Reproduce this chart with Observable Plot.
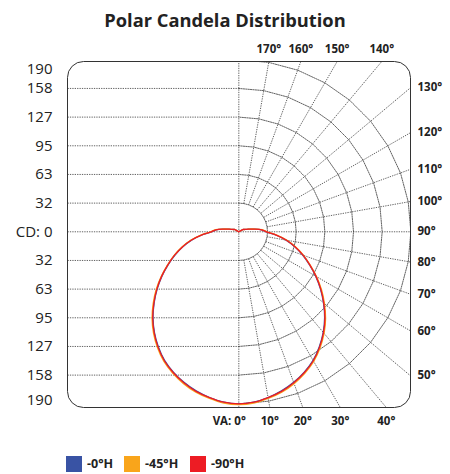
<!DOCTYPE html>
<html><head><meta charset="utf-8">
<script src="https://cdn.jsdelivr.net/npm/d3@7"></script>
<script src="https://cdn.jsdelivr.net/npm/@observablehq/plot@0.6"></script>
<style>
body{margin:0;background:#fff;font-family:"Open Sans",sans-serif;width:450px;height:474px;overflow:hidden;}
#title{height:36px;line-height:39px;text-align:center;font-weight:700;font-size:18.3px;color:#222;}
#chart svg{display:block;}
#legend{position:relative;height:20px;margin-top:25px;}
.item{position:absolute;top:0;display:flex;align-items:center;font-weight:700;font-size:12.5px;color:#222;}
.sw{width:16px;height:16px;margin-right:5px;}
</style></head><body>
<div id="title">Polar Candela Distribution</div>
<div id="chart"></div>
<div id="legend"></div>
<script>
// vertical angles (deg) and candela values per horizontal plane
const angles = [0,5,10,15,20,25,30,35,40,45,50,55,60,65,70,75,80,85,90,95,100,105,110,115,120,125,130,135,140,145,150,155,160,165,170,175,180];
const cd0H  = [190,189,186,182,177,171,164,155,145,134,122,110,98,86,75,64,53,41,30,25,17,11,7.5,6,5,0,0,0,0,0,0,0,0,0,0,0,0];
const cd45H = [191,190,187,183.5,178.5,172.5,165.5,156.5,146.5,135.5,123.5,111.5,99,87,76,65,54,42,31,26,17.5,11,7.5,6,5,0,0,0,0,0,0,0,0,0,0,0,0];
const cd90H = [190,189,186,182.5,177.5,171.5,164.5,155.5,145.5,134.5,122.5,110.5,98.5,86.5,75.5,64.5,53.5,41.5,30.5,25.5,17,11,7.5,6,5,0,0,0,0,0,0,0,0,0,0,0,0];
const seriesNames = ["-0°H","-45°H","-90°H"];
const seriesColors = ["#3953a4","#f9a51b","#ed1c24"];
const ringValues = [31.67,63.33,95,126.67,158.33,190];
const ringLabels = ["32","63","95","127","158","190"];
const radialAngles = [10,20,30,40,50,60,70,80,100,110,120,130,140,150,160,170];
const bottomAngles = [10,20,30,40];
const rightAngles = [50,60,70,80,90,100,110,120,130];
const topAngles = [140,150,160,170];

const xMin = -189.2, xMax = 189.6, yMin = -194.1, yMax = 188.1;
const rad = a => a * Math.PI / 180;
const px = (r, a) => r * Math.sin(rad(a));
const py = (r, a) => -r * Math.cos(rad(a));

// curves, mirrored to the left half
const seriesVals = [cd0H, cd45H, cd90H];
const curve = [];
seriesVals.forEach((vals, s) => {
  for (let i = angles.length - 1; i >= 0; i--) curve.push({s, x: px(vals[i], -angles[i]), y: py(vals[i], -angles[i])});
  for (let i = 1; i < angles.length; i++) curve.push({s, x: px(vals[i], angles[i]), y: py(vals[i], angles[i])});
});

// grid
const segs = [];
ringValues.slice(0, 5).forEach(r => {
  segs.push({x1: xMin, y1: r, x2: 0, y2: r});
  segs.push({x1: xMin, y1: -r, x2: 0, y2: -r});
});
segs.push({x1: xMin, y1: 0, x2: xMax, y2: 0});
segs.push({x1: 0, y1: yMin, x2: 0, y2: yMax});
radialAngles.forEach(a => {
  const s = Math.sin(rad(a)), c = Math.cos(rad(a));
  const rEnd = Math.min(xMax / s, c > 0 ? -yMin / c : yMax / -c);
  segs.push({x1: px(ringValues[0], a), y1: py(ringValues[0], a), x2: px(rEnd, a), y2: py(rEnd, a)});
});
const arcs = [];
ringValues.forEach((r, k) => {
  for (let a = 0; a <= 180; a += 10) arcs.push({k, x: px(r, a), y: py(r, a)});
});

// labels
const leftLabels = [];
ringValues.slice(0, 5).forEach((r, i) => {
  leftLabels.push({y: r, t: ringLabels[i]});
  leftLabels.push({y: -r, t: ringLabels[i]});
});
const bottomLab = bottomAngles.map(a => ({x: -yMin * Math.tan(rad(a)), t: a + "°"}));
const topLab = topAngles.map(a => ({x: yMax * Math.tan(rad(180 - a)), t: a + "°"}));
const rightLab = rightAngles.map(a => ({y: -xMax * Math.cos(rad(a)) / Math.sin(rad(a)), t: a + "°"}));

const grid = {stroke: "#3a3a3a", strokeWidth: 0.8, strokeDasharray: "1.3,1.1"};
const chart = Plot.plot({
  width: 450, height: 394,
  marginLeft: 67, marginRight: 40, marginTop: 25, marginBottom: 23,
  x: {domain: [xMin, xMax], axis: null},
  y: {domain: [yMin, yMax], axis: null},
  style: {fontFamily: "Open Sans", background: "#fff"},
  marks: [
    Plot.link(segs, {x1: "x1", y1: "y1", x2: "x2", y2: "y2", ...grid}),
    Plot.line(arcs, {x: "x", y: "y", z: "k", ...grid, clip: true}),
    Plot.frame({stroke: "#333", strokeWidth: 1, rx: 16}),
    ...[0, 1, 2].map(s => Plot.line(curve.filter(d => d.s === s), {x: "x", y: "y", stroke: seriesColors[s], strokeWidth: 1.3, curve: "catmull-rom"})),
    Plot.text(leftLabels, {x: () => xMin, y: "y", text: "t", dx: -15, textAnchor: "end", fontSize: 15, fill: "#222"}),
    Plot.text([{t: "190"}], {x: () => xMin, y: () => ringValues[5], text: "t", dx: -15, dy: 9.6, textAnchor: "end", fontSize: 15, fill: "#222"}),
    Plot.text([{t: "190"}], {x: () => xMin, y: () => -ringValues[5], text: "t", dx: -15, dy: -4, textAnchor: "end", fontSize: 15, fill: "#222"}),
    Plot.text([{t: "CD: 0"}], {x: () => xMin, y: () => 0, text: "t", dx: -15, textAnchor: "end", fontSize: 15, fill: "#222"}),
    Plot.text(bottomLab, {x: "x", y: () => yMin, text: "t", dy: 14, fontSize: 11.5, fontWeight: "bold", fill: "#222"}),
    Plot.text([{t: "VA: 0°"}], {x: () => 0, y: () => yMin, text: "t", dy: 14, dx: 7, textAnchor: "end", fontSize: 11.5, fontWeight: "bold", fill: "#222"}),
    Plot.text(topLab, {x: "x", y: () => yMax, text: "t", dy: -12, fontSize: 11.5, fontWeight: "bold", fill: "#222"}),
    Plot.text(rightLab, {x: () => xMax, y: "y", text: "t", dx: 7, textAnchor: "start", fontSize: 11.5, fontWeight: "bold", fill: "#222"})
  ]
});
document.getElementById("chart").appendChild(chart);

const legend = document.getElementById("legend");
const lefts = [66, 124, 190];
seriesNames.forEach((n, i) => {
  const it = document.createElement("div");
  it.className = "item";
  it.style.left = lefts[i] + "px";
  it.innerHTML = `<div class="sw" style="background:${seriesColors[i]}"></div><span>${n}</span>`;
  legend.appendChild(it);
});
</script>
</body></html>
